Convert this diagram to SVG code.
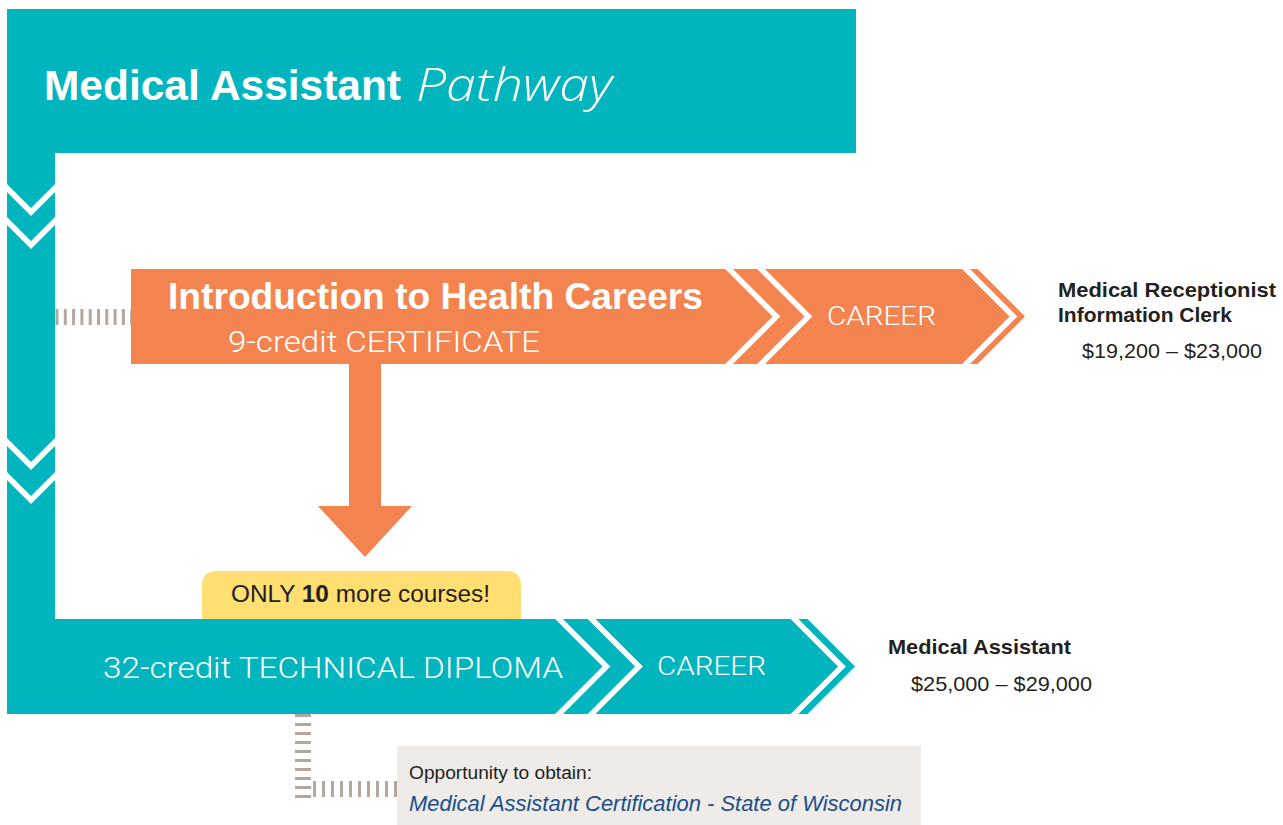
<svg xmlns="http://www.w3.org/2000/svg" width="1283" height="825" viewBox="0 0 1283 825">
<style>
.teal{fill:#00B5BD}
.orange{fill:#F4844F}
.chev{fill:none;stroke:#FFFFFF;stroke-width:5.5}
.w{fill:#FFFFFF;font-family:"Liberation Sans",Arial,sans-serif}
.wl{fill:#FFFFFF;font-family:Roboto,"Liberation Sans",Arial,sans-serif;font-weight:300}
.dk{fill:#231F20;font-family:"Liberation Sans",Arial,sans-serif}
.dash{fill:none;stroke:#B5A79E;stroke-width:16}
</style>
<defs>
<clipPath id="clipLeft"><rect x="7" y="153" width="48" height="466"/></clipPath>
<clipPath id="clipOrange"><rect x="0" y="269" width="1283" height="95"/></clipPath>
<clipPath id="clipTeal"><rect x="0" y="619" width="1283" height="95"/></clipPath>
</defs>
<rect width="1283" height="825" fill="#FFFFFF"/>

<g id="connectors">
<line class="dash" x1="55" y1="317" x2="131" y2="317" stroke-dasharray="3 5.3" stroke-dashoffset="-0.5"/>
<line class="dash" x1="303" y1="714" x2="303" y2="798" stroke-dasharray="3 6"/>
<line class="dash" x1="313" y1="789" x2="397" y2="789" stroke-dasharray="3 6"/>
<g id="arrow-down">
<polygon class="orange" points="349,364 381,364 381,506 412,506 365,557 318,506 349,506"/>
</g>
</g>

<g id="pathway-spine">
<rect class="teal" x="7" y="9" width="849" height="144"/>
<rect class="teal" x="7" y="150" width="48" height="472"/>
<g clip-path="url(#clipLeft)">
<polyline class="chev" points="3,184 31,212 59,184"/>
<polyline class="chev" points="3,217 31,245 59,217"/>
<polyline class="chev" points="3,438 31,466 59,438"/>
<polyline class="chev" points="3,472 31,500 59,472"/>
</g>
<text class="w" x="44" y="100" font-size="42" font-weight="bold" textLength="357" lengthAdjust="spacingAndGlyphs">Medical Assistant</text>
<text x="416" y="101" fill="#FFFFFF" font-family="'Open Sans','DejaVu Sans',sans-serif" font-style="italic" font-weight="300" font-size="46" textLength="196" lengthAdjust="spacingAndGlyphs">Pathway</text>
</g>

<g id="certificate">
<polygon class="orange" points="131,269 977.5,269 1025,316.5 977.5,364 131,364"/>
<g clip-path="url(#clipOrange)">
<polyline class="chev" points="722,262 776.5,316.5 722,371"/>
<polyline class="chev" points="754,262 808.5,316.5 754,371"/>
<polyline class="chev" points="959,262 1013.5,316.5 959,371"/>
</g>
<text class="w" x="168" y="309" font-size="36" font-weight="bold" textLength="535" lengthAdjust="spacingAndGlyphs">Introduction to Health Careers</text>
<text class="wl" x="228" y="352" font-size="30" textLength="312" lengthAdjust="spacingAndGlyphs">9-credit CERTIFICATE</text>
<text class="wl" x="827" y="325" font-size="26" textLength="109" lengthAdjust="spacingAndGlyphs">CAREER</text>
</g>

<g id="career-1">
<text class="dk" x="1058" y="297" font-size="21" font-weight="bold" textLength="218" lengthAdjust="spacingAndGlyphs">Medical Receptionist</text>
<text class="dk" x="1058" y="322" font-size="21" font-weight="bold">Information Clerk</text>
<text class="dk" x="1082" y="358" font-size="21" textLength="180" lengthAdjust="spacingAndGlyphs">$19,200 – $23,000</text>
</g>

<g id="callout">
<path d="M202,619 V586 Q202,571 217,571 H506 Q521,571 521,586 V619 Z" fill="#FFDE72"/>
<text class="dk" x="231" y="602" font-size="23" textLength="259" lengthAdjust="spacingAndGlyphs">ONLY <tspan font-weight="bold">10</tspan> more courses!</text>
</g>

<g id="diploma">
<polygon class="teal" points="7,619 807.5,619 855,666.5 807.5,714 7,714"/>
<g clip-path="url(#clipTeal)">
<polyline class="chev" points="552,612 606.5,666.5 552,721"/>
<polyline class="chev" points="584.5,612 639,666.5 584.5,721"/>
<polyline class="chev" points="787.5,612 842,666.5 787.5,721"/>
</g>
<text class="wl" x="103" y="678" font-size="30" textLength="460" lengthAdjust="spacingAndGlyphs">32-credit TECHNICAL DIPLOMA</text>
<text class="wl" x="657" y="675" font-size="26" textLength="109" lengthAdjust="spacingAndGlyphs">CAREER</text>
</g>

<g id="career-2">
<text class="dk" x="888" y="654" font-size="21" font-weight="bold" textLength="183" lengthAdjust="spacingAndGlyphs">Medical Assistant</text>
<text class="dk" x="911" y="691" font-size="21" textLength="181" lengthAdjust="spacingAndGlyphs">$25,000 – $29,000</text>
</g>

<g id="certification-note">
<rect x="397" y="746" width="524" height="79" fill="#EEEBE8"/>
<text class="dk" x="409" y="779" font-size="17.5" textLength="183" lengthAdjust="spacingAndGlyphs">Opportunity to obtain:</text>
<text x="409" y="811" fill="#1B4F8A" font-family="'Liberation Sans',Arial,sans-serif" font-style="italic" font-size="21.5" textLength="493" lengthAdjust="spacingAndGlyphs">Medical Assistant Certification - State of Wisconsin</text>
</g>
</svg>
